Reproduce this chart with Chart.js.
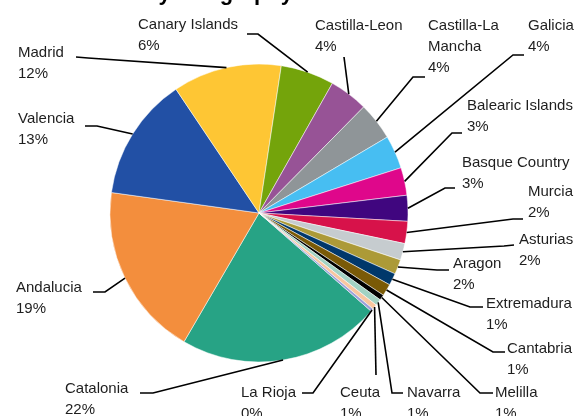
<!DOCTYPE html>
<html>
<head>
<meta charset="utf-8">
<script src="https://cdn.jsdelivr.net/npm/chart.js@4/dist/chart.umd.min.js"></script>
<style>
  html, body { margin: 0; padding: 0; background: #fff; overflow: hidden; }
  #wrap { position: relative; width: 579px; height: 416px; }
</style>
</head>
<body>
<div id="wrap"><canvas id="c" width="579" height="416"></canvas></div>
<script>
// Regions, largest first, drawn clockwise
const regions = [
  'Catalonia', 'Andalucia', 'Valencia', 'Madrid', 'Canary Islands',
  'Castilla-Leon', 'Castilla-La Mancha', 'Galicia', 'Balearic Islands',
  'Basque Country', 'Murcia', 'Asturias', 'Aragon', 'Extremadura',
  'Cantabria', 'Melilla', 'Navarra', 'Ceuta', 'La Rioja'
];

// Share of the total, in percent
const shares = [
  21.95, 18.8, 13.4, 11.8, 5.8,
  4.2, 4.1, 3.6, 3.0,
  2.8, 2.4, 1.8, 1.6, 1.3,
  1.3, 0.6, 0.7, 0.55, 0.3
];

const sliceColors = [
  '#27a385', '#f38e3d', '#2250a5', '#fec634', '#74a40b',
  '#975396', '#8f9598', '#47bef2', '#df078b',
  '#40067f', '#d7124a', '#c6cccf', '#ac9a37', '#00386b',
  '#7a5a06', '#000000', '#a2d2c3', '#f8c6a0', '#9aa0d8'
];

const chartTitle = 'Loan Book by Geography';

// Where each label sits (x, baseline of its first line) and the
// leader-line points that lead from the label towards its slice
const labelLayout = [
  { x: 65,  y: 393, lead: [[140, 393], [153, 393]] },
  { x: 16,  y: 292, lead: [[93, 292], [105, 292]] },
  { x: 18,  y: 123, lead: [[85, 126], [97, 126]] },
  { x: 18,  y: 57,  lead: [[76, 57], [88, 58]] },
  { x: 138, y: 29,  lead: [[247, 34], [258, 34]] },
  { x: 315, y: 30,  lead: [[344, 57]] },
  { x: 428, y: 30,  lead: [[425, 77], [413, 77]], wrap: true },
  { x: 528, y: 30,  lead: [[524, 55], [513, 55]] },
  { x: 467, y: 110, lead: [[462, 133], [452, 133]] },
  { x: 462, y: 167, lead: [[455, 188], [445, 188]] },
  { x: 528, y: 196, lead: [[523, 219], [513, 219]] },
  { x: 519, y: 244, lead: [[514, 245], [504, 246]] },
  { x: 453, y: 268, lead: [[449, 270], [437, 270]] },
  { x: 486, y: 308, lead: [[483, 307], [470, 307]] },
  { x: 507, y: 353, lead: [[505, 352], [493, 352]] },
  { x: 495, y: 397, lead: [[493, 393], [480, 393]] },
  { x: 407, y: 397, lead: [[403, 393], [392, 393]] },
  { x: 340, y: 397, lead: [[376, 375]] },
  { x: 241, y: 397, lead: [[302, 393], [313, 393]] }
];

const labelFont = '15px "Liberation Sans", Arial, sans-serif';
const lineHeight = 21;

const total = shares.reduce((a, b) => a + b, 0);

// Outside labels with leader lines ending on each slice's outer edge
const outsideLabels = {
  id: 'outsideLabels',
  afterDatasetsDraw(chart) {
    const ctx = chart.ctx;
    const meta = chart.getDatasetMeta(0);
    ctx.save();
    meta.data.forEach((arc, i) => {
      const lay = labelLayout[i];
      if (!lay) return;
      const p = arc.getProps(['x', 'y', 'startAngle', 'endAngle', 'outerRadius'], true);
      const mid = (p.startAngle + p.endAngle) / 2;
      const ex = p.x + Math.cos(mid) * p.outerRadius;
      const ey = p.y + Math.sin(mid) * p.outerRadius;

      ctx.beginPath();
      ctx.strokeStyle = '#000';
      ctx.lineWidth = 1.6;
      ctx.lineJoin = 'miter';
      lay.lead.forEach((pt, k) => {
        if (k === 0) ctx.moveTo(pt[0], pt[1]); else ctx.lineTo(pt[0], pt[1]);
      });
      ctx.lineTo(ex, ey);
      ctx.stroke();

      const name = regions[i];
      let lines = [name];
      if (lay.wrap) {
        const cut = name.lastIndexOf(' ');
        lines = [name.slice(0, cut), name.slice(cut + 1)];
      }
      lines.push(Math.round(shares[i] / total * 100) + '%');

      ctx.font = labelFont;
      ctx.fillStyle = '#1e1e1e';
      ctx.textAlign = 'left';
      ctx.textBaseline = 'alphabetic';
      lines.forEach((t, k) => ctx.fillText(t, lay.x, lay.y + k * lineHeight));
    });
    ctx.restore();
  }
};

// Heading along the top edge
const headingText = {
  id: 'headingText',
  afterDraw(chart) {
    const ctx = chart.ctx;
    ctx.save();
    ctx.font = 'bold 22px "Liberation Sans", Arial, sans-serif';
    ctx.fillStyle = '#000';
    ctx.textAlign = 'right';
    ctx.textBaseline = 'alphabetic';
    ctx.fillText(chartTitle, 293, 0);
    ctx.restore();
  }
};

new Chart(document.getElementById('c'), {
  type: 'pie',
  data: {
    labels: regions,
    datasets: [{
      data: shares,
      backgroundColor: sliceColors,
      borderColor: '#ffffff',
      borderWidth: 0.5
    }]
  },
  options: {
    responsive: false,
    devicePixelRatio: 1,
    animation: false,
    rotation: 131.2,
    radius: 149,
    layout: { padding: { left: 110, right: 171, top: 64, bottom: 54 } },
    plugins: {
      legend: { display: false },
      tooltip: { enabled: false },
      title: { display: false }
    }
  },
  plugins: [outsideLabels, headingText]
});
</script>
</body>
</html>
